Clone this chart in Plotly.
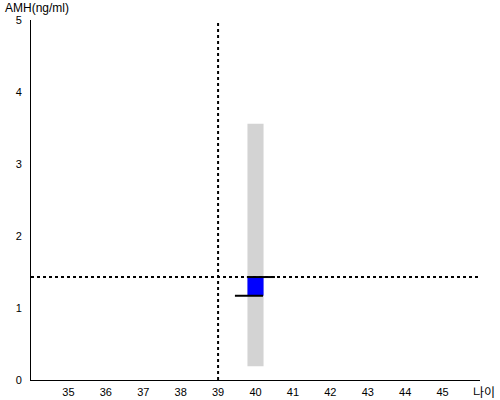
import plotly.graph_objects as go

x_ticks = [35, 36, 37, 38, 39, 40, 41, 42, 43, 44, 45]
y_ticks = [0, 1, 2, 3, 4, 5]

ref_age = 39
ref_amh = 1.43

range_x = [40]
range_low = [0.19]
range_high = [3.56]

box_low = [1.17]
box_high = [1.43]

top_line_x = [39.77, 40.52]
top_line_y = [1.43, 1.43]
bot_line_x = [39.45, 40.2]
bot_line_y = [1.17, 1.17]

fig = go.Figure()
fig.add_trace(go.Bar(x=range_x, y=[h - l for h, l in zip(range_high, range_low)], base=range_low,
                     width=0.43, marker=dict(color="#d3d3d3", line=dict(width=0)), hoverinfo="skip"))
fig.add_trace(go.Bar(x=range_x, y=[h - l for h, l in zip(box_high, box_low)], base=box_low,
                     width=0.43, marker=dict(color="#0000ff", line=dict(width=0)), hoverinfo="skip"))
fig.add_trace(go.Scatter(x=[34, 46], y=[ref_amh, ref_amh], mode="lines",
                         line=dict(color="black", width=2, dash="dot")))
fig.add_trace(go.Scatter(x=[ref_age, ref_age], y=[0, 5], mode="lines",
                         line=dict(color="black", width=2, dash="dot")))
fig.add_trace(go.Scatter(x=top_line_x, y=top_line_y, mode="lines", line=dict(color="black", width=2)))
fig.add_trace(go.Scatter(x=bot_line_x, y=bot_line_y, mode="lines", line=dict(color="black", width=2)))

fig.update_layout(
    width=500, height=400,
    margin=dict(l=31, r=20, t=20, b=20, autoexpand=False),
    plot_bgcolor="white", paper_bgcolor="white",
    showlegend=False, barmode="overlay",
    font=dict(family="Liberation Sans, Arial, sans-serif", size=11, color="black"),
    xaxis=dict(range=[34, 46], tickvals=x_ticks, showgrid=False, zeroline=False, automargin=False,
               showline=True, linecolor="black", linewidth=1, ticks="outside", ticklen=2,
               tickcolor="rgba(0,0,0,0)"),
    yaxis=dict(range=[0, 5], tickvals=y_ticks, showgrid=False, zeroline=False, automargin=False,
               showline=True, linecolor="black", linewidth=1, ticks="outside", ticklen=6,
               tickcolor="rgba(0,0,0,0)"),
    annotations=[
        dict(text="AMH(ng/ml)", x=0, y=1, xref="paper", yref="paper", xanchor="left", yanchor="bottom",
             xshift=-28, yshift=3, showarrow=False, font=dict(size=12)),
        dict(text="나이", x=1, y=0, xref="paper", yref="paper", xanchor="right", yanchor="top",
             xshift=17, yshift=-1, showarrow=False,
             font=dict(size=12, family="Noto Sans CJK KR, sans-serif")),
    ],
)
fig.write_html("out.html", config={"displayModeBar": False},
               post_script="document.body.style.margin='0';")
